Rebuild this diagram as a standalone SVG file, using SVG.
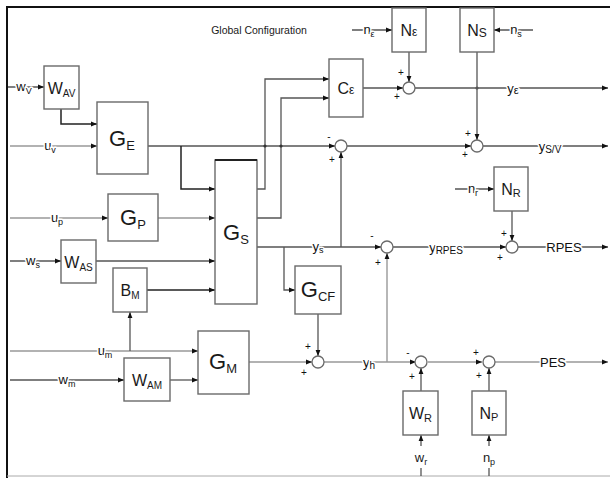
<svg xmlns="http://www.w3.org/2000/svg" width="610" height="478" viewBox="0 0 610 478">
<style>
.box{fill:#fff;stroke:#6a6a6a;stroke-width:1.4}
.sum{fill:#fff;stroke:#6a6a6a;stroke-width:1.3}
.ln{fill:none;stroke:#555;stroke-width:1.3}
.lg{fill:none;stroke:#999;stroke-width:1.4}
.lk{fill:none;stroke:#222;stroke-width:1.5}
text{font-family:"Liberation Sans",Arial,sans-serif;fill:#1a1a1a}
.big{font-size:22px}
.mid{font-size:16px}
.lab{font-size:13px;fill:#111;stroke:#fff;stroke-width:3;paint-order:stroke;stroke-linejoin:round}
.sg{font-size:10px;fill:#111}
.title{font-size:10.5px}
</style>
<defs>
<marker id="a" viewBox="0 0 10 10" refX="10" refY="5" markerWidth="6" markerHeight="6" markerUnits="userSpaceOnUse" orient="auto"><path d="M0,1 L10,5 L0,9 z" fill="#111"/></marker>
</defs>
<rect width="610" height="478" fill="#fff"/>
<g id="frame">
<line x1="7" y1="7" x2="610" y2="7" stroke="#111" stroke-width="2"/>
<line x1="7" y1="6" x2="7" y2="478" stroke="#111" stroke-width="2"/>
<line x1="7" y1="476" x2="610" y2="476" stroke="#aaa" stroke-width="1"/>
</g>
<text class="title" x="259" y="34" text-anchor="middle">Global Configuration</text>
<g id="connectors">
<path class="ln" d="M8,87 H44" marker-end="url(#a)"/>
<path class="lk" d="M61,109 V124 H97" marker-end="url(#a)"/>
<path class="lg" d="M10,146 H97" marker-end="url(#a)"/>
<path class="ln" d="M148,146 H335" marker-end="url(#a)"/>
<path class="lk" d="M181,146 V189 H215" marker-end="url(#a)"/>
<path class="ln" d="M257,189 H265 V79 H329" marker-end="url(#a)"/>
<path class="ln" d="M257,218 H281 V98 H329" marker-end="url(#a)"/>
<path class="ln" d="M363,88 H403" marker-end="url(#a)"/>
<path class="ln" d="M409,52 V82" marker-end="url(#a)"/>
<path class="ln" d="M352,30 H392" marker-end="url(#a)"/>
<path class="ln" d="M533,30 H494" marker-end="url(#a)"/>
<path class="ln" d="M477,52 V140" marker-end="url(#a)"/>
<path class="ln" d="M415,88 H608" marker-end="url(#a)"/>
<path class="ln" d="M347,146 H471" marker-end="url(#a)"/>
<path class="ln" d="M483,146 H608" marker-end="url(#a)"/>
<path class="ln" d="M257,247 H381" marker-end="url(#a)"/>
<path class="ln" d="M341,247 V152" marker-end="url(#a)"/>
<path class="ln" d="M284,247 V290 H295" marker-end="url(#a)"/>
<path class="ln" d="M318,314 V356" marker-end="url(#a)"/>
<path class="lg" d="M249,362 H312" marker-end="url(#a)"/>
<path class="lg" d="M324,362 H416" marker-end="url(#a)"/>
<path class="lg" d="M387,362 V253" marker-end="url(#a)"/>
<path class="ln" d="M393,247 H506" marker-end="url(#a)"/>
<path class="ln" d="M512,211 V241" marker-end="url(#a)"/>
<path class="ln" d="M455,189 H494" marker-end="url(#a)"/>
<path class="ln" d="M518,247 H608" marker-end="url(#a)"/>
<path class="lg" d="M10,218 H108" marker-end="url(#a)"/>
<path class="lg" d="M158,218 H215" marker-end="url(#a)"/>
<path class="ln" d="M10,261 H61" marker-end="url(#a)"/>
<path class="ln" d="M96,261 H215" marker-end="url(#a)"/>
<path class="lk" d="M147,290 H215" marker-end="url(#a)"/>
<path class="lg" d="M10,351 H198" marker-end="url(#a)"/>
<path class="ln" d="M130,351 V312" marker-end="url(#a)"/>
<path class="ln" d="M10,380 H124" marker-end="url(#a)"/>
<path class="ln" d="M170,380 H198" marker-end="url(#a)"/>
<path class="ln" d="M421,391 V368" marker-end="url(#a)"/>
<path class="lg" d="M428,362 H482" marker-end="url(#a)"/>
<path class="ln" d="M489,391 V368" marker-end="url(#a)"/>
<path class="lg" d="M494,362 H608" marker-end="url(#a)"/>
<path class="ln" d="M421,446 V435" marker-end="url(#a)"/>
<path class="ln" d="M421,468 V476"/>
<path class="ln" d="M489,446 V435" marker-end="url(#a)"/>
<path class="ln" d="M489,468 V476"/>
<circle cx="265" cy="146" r="1.6" fill="#333"/>
<circle cx="281" cy="146" r="1.6" fill="#333"/>
<circle cx="477" cy="88" r="1.6" fill="#555"/>
</g>
<g id="labels">
<text class="lab" x="24" y="91" text-anchor="middle">w<tspan font-size="9" dy="3">V</tspan></text>
<text class="lab" x="50" y="150" text-anchor="middle">u<tspan font-size="9" dy="3">v</tspan></text>
<text class="lab" x="57" y="222" text-anchor="middle">u<tspan font-size="9" dy="3">p</tspan></text>
<text class="lab" x="33" y="265" text-anchor="middle">w<tspan font-size="9" dy="3">s</tspan></text>
<text class="lab" x="105" y="355" text-anchor="middle">u<tspan font-size="9" dy="3">m</tspan></text>
<text class="lab" x="67" y="384" text-anchor="middle">w<tspan font-size="9" dy="3">m</tspan></text>
<text class="lab" x="369" y="34" text-anchor="middle">n<tspan font-size="9" dy="3">ε</tspan></text>
<text class="lab" x="516" y="34" text-anchor="middle">n<tspan font-size="9" dy="3">s</tspan></text>
<text class="lab" x="473" y="193" text-anchor="middle">n<tspan font-size="9" dy="3">r</tspan></text>
<text class="lab" x="513" y="93" text-anchor="middle" font-size="14">y<tspan font-size="11" dy="1">ε</tspan></text>
<text class="lab" x="550" y="151" text-anchor="middle" font-size="14">y<tspan font-size="10" dy="2">S/V</tspan></text>
<text class="lab" x="318" y="251" text-anchor="middle" font-size="14">y<tspan font-size="9" dy="2">s</tspan></text>
<text class="lab" x="446" y="252" text-anchor="middle" font-size="14">y<tspan font-size="10" dy="2">RPES</tspan></text>
<text class="lab" x="564" y="252" text-anchor="middle" font-size="15">RPES</text>
<text class="lab" x="369" y="367" text-anchor="middle" font-size="14">y<tspan font-size="10" dy="2">h</tspan></text>
<text class="lab" x="553" y="367" text-anchor="middle" font-size="15">PES</text>
<text x="421" y="462" text-anchor="middle" font-size="13">w<tspan font-size="9" dy="3">r</tspan></text>
<text x="489" y="462" text-anchor="middle" font-size="13">n<tspan font-size="9" dy="3">p</tspan></text>
<text class="sg" x="401" y="76" text-anchor="middle">+</text>
<text class="sg" x="397" y="100" text-anchor="middle">+</text>
<text class="sg" x="468" y="137" text-anchor="middle">+</text>
<text class="sg" x="465" y="158" text-anchor="middle">+</text>
<text class="sg" x="329" y="140" text-anchor="middle">-</text>
<text class="sg" x="332" y="163" text-anchor="middle">+</text>
<text class="sg" x="372" y="239" text-anchor="middle">-</text>
<text class="sg" x="378" y="266" text-anchor="middle">+</text>
<text class="sg" x="504" y="237" text-anchor="middle">+</text>
<text class="sg" x="500" y="261" text-anchor="middle">+</text>
<text class="sg" x="308" y="350" text-anchor="middle">+</text>
<text class="sg" x="304" y="376" text-anchor="middle">+</text>
<text class="sg" x="408" y="356" text-anchor="middle">-</text>
<text class="sg" x="412" y="380" text-anchor="middle">+</text>
<text class="sg" x="476" y="356" text-anchor="middle">+</text>
<text class="sg" x="479" y="379" text-anchor="middle">+</text>
</g>
<g id="WAV"><rect class="box" x="44" y="66" width="35" height="43"/><text x="61.5" y="94" text-anchor="middle" class="mid">W<tspan font-size="10" dy="3">AV</tspan></text></g>
<g id="GE"><rect class="box" x="97" y="102" width="51" height="72"/><text x="122" y="146" text-anchor="middle" class="big">G<tspan font-size="13" dy="4">E</tspan></text></g>
<g id="GS"><rect class="box" x="215" y="160" width="42" height="144"/><line x1="215" y1="160" x2="257" y2="160" stroke="#222" stroke-width="2"/><text x="236" y="240" text-anchor="middle" class="big">G<tspan font-size="13" dy="4">S</tspan></text></g>
<g id="Ceps"><rect class="box" x="329" y="59" width="34" height="58"/><text x="346" y="94" text-anchor="middle" class="mid">C<tspan font-size="12">ε</tspan></text></g>
<g id="Neps"><rect class="box" x="392" y="8" width="34" height="44"/><text x="409" y="36" text-anchor="middle" class="mid">N<tspan font-size="12">ε</tspan></text></g>
<g id="NS"><rect class="box" x="460" y="8" width="34" height="44"/><text x="477" y="36" text-anchor="middle" class="mid">N<tspan font-size="12" dy="1">S</tspan></text></g>
<g id="NR"><rect class="box" x="494" y="167" width="34" height="44"/><text x="511" y="195" text-anchor="middle" class="mid">N<tspan font-size="11" dy="2">R</tspan></text></g>
<g id="GP"><rect class="box" x="108" y="194" width="50" height="47"/><text x="133" y="225" text-anchor="middle" class="big">G<tspan font-size="13" dy="4">P</tspan></text></g>
<g id="WAS"><rect class="box" x="61" y="240" width="35" height="43"/><text x="78.5" y="268" text-anchor="middle" class="mid">W<tspan font-size="10" dy="3">AS</tspan></text></g>
<g id="BM"><rect class="box" x="113" y="268" width="34" height="44"/><text x="130" y="296" text-anchor="middle" class="mid">B<tspan font-size="10" dy="3">M</tspan></text></g>
<g id="GCF"><rect class="box" x="295" y="266" width="46" height="48"/><text x="318" y="297" text-anchor="middle" class="big">G<tspan font-size="13" dy="4">CF</tspan></text></g>
<g id="GM"><rect class="box" x="198" y="331" width="51" height="63"/><text x="223" y="369" text-anchor="middle" class="big">G<tspan font-size="13" dy="4">M</tspan></text></g>
<g id="WAM"><rect class="box" x="124" y="358" width="46" height="43"/><text x="147" y="386" text-anchor="middle" class="mid">W<tspan font-size="10" dy="3">AM</tspan></text></g>
<g id="WR"><rect class="box" x="403" y="391" width="35" height="44"/><text x="420.5" y="419" text-anchor="middle" class="mid">W<tspan font-size="11" dy="3">R</tspan></text></g>
<g id="NP"><rect class="box" x="472" y="391" width="34" height="44"/><text x="489" y="419" text-anchor="middle" class="mid">N<tspan font-size="11" dy="2">P</tspan></text></g>
<g id="sums">
<circle class="sum" cx="409" cy="88" r="6"/>
<circle class="sum" cx="341" cy="146" r="6"/>
<circle class="sum" cx="477" cy="146" r="6"/>
<circle class="sum" cx="387" cy="247" r="6"/>
<circle class="sum" cx="512" cy="247" r="6"/>
<circle class="sum" cx="318" cy="362" r="6"/>
<circle class="sum" cx="421" cy="362" r="6"/>
<circle class="sum" cx="489" cy="362" r="6"/>
</g>
</svg>
